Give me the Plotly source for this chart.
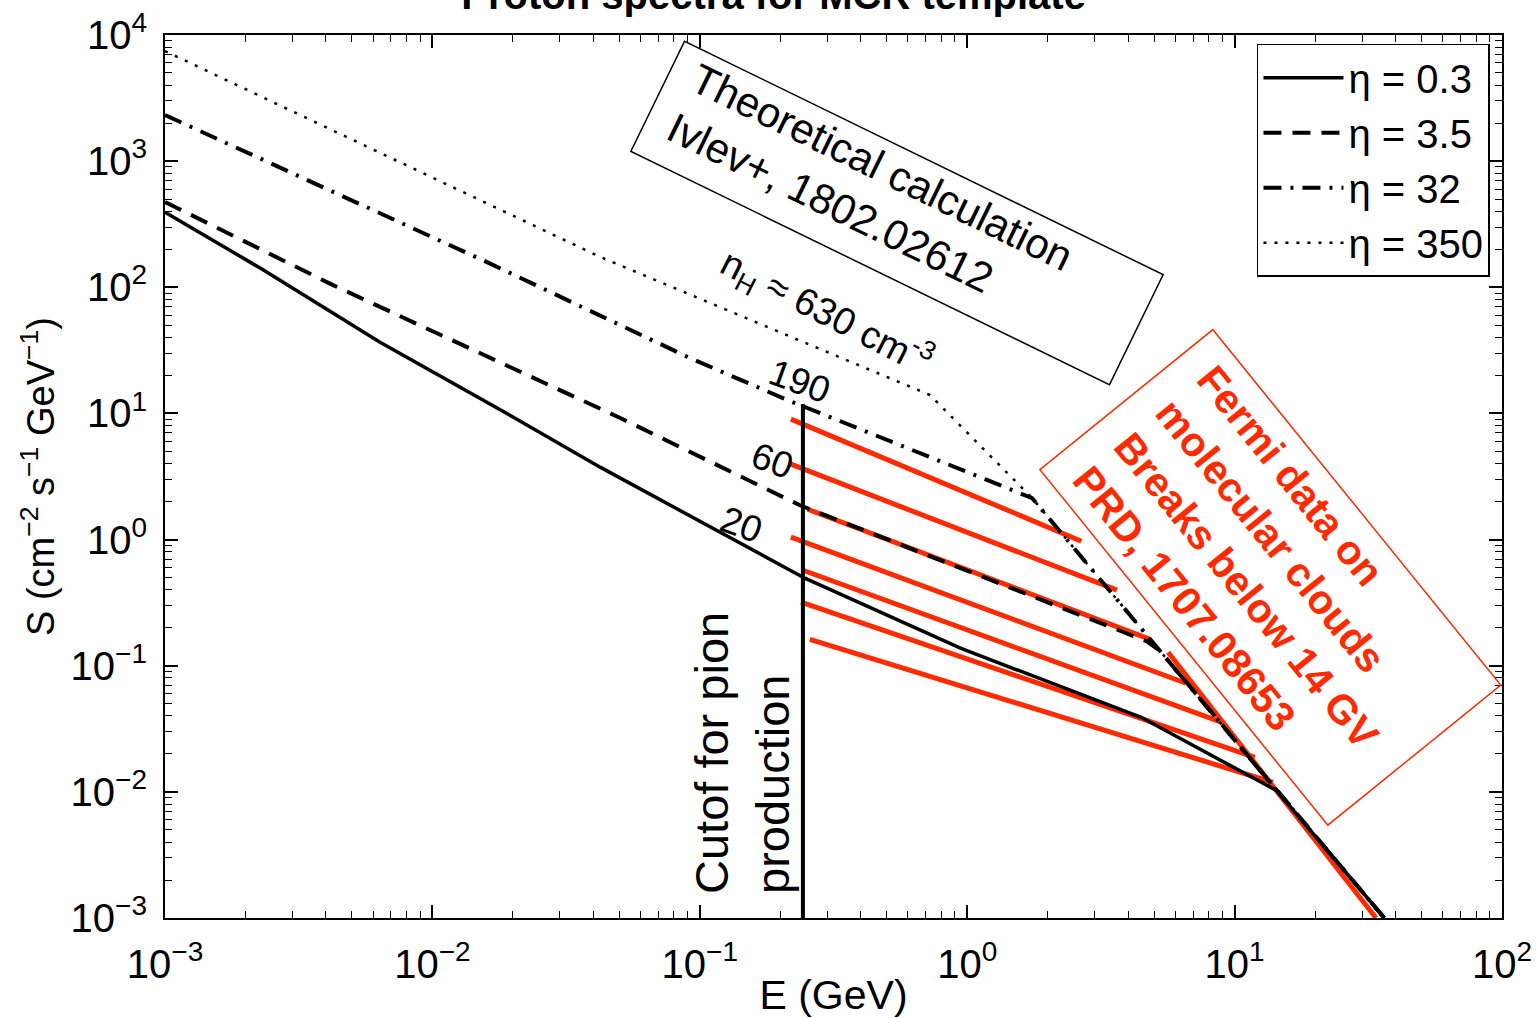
import plotly.graph_objects as go

# ---------------- data ----------------
E_eta03 = [0.001, 0.00227, 0.00637, 0.0207, 0.0424, 0.247, 0.948, 4.47, 14.4, 36.3]
S_eta03 = [394, 142, 36.7, 9.0, 3.75, 0.494, 0.137, 0.039, 0.0102, 0.001]

E_eta35 = [0.001, 0.00425, 0.0504, 0.0977, 0.237, 0.933, 4.70, 5.26, 14.4, 36.3]
S_eta35 = [474, 104, 9.2, 4.67, 1.87, 0.60, 0.156, 0.131, 0.0102, 0.001]

E_eta32 = [0.001, 0.0169, 0.0918, 0.212, 1.19, 1.75, 14.4, 36.3]
S_eta32 = [2320, 150, 27.5, 12.8, 2.96, 2.13, 0.0102, 0.001]

E_eta350 = [0.001, 0.02, 0.0424, 0.726, 1.75, 14.4, 36.3]
S_eta350 = [7460, 374, 174, 14.0, 2.13, 0.0102, 0.001]

# Fermi broken power-law segments (red)
red_E_start = [0.219, 0.219, 0.253, 0.219, 0.243, 0.239, 0.258]
red_S_start = [9.02, 3.96, 1.74, 1.045, 0.571, 0.319, 0.162]
red_E_end = [2.67, 3.63, 4.83, 6.58, 8.97, 11.9, 13.9]
red_S_end = [0.971, 0.397, 0.162, 0.0726, 0.0356, 0.0188, 0.0119]
red_tail_E = [5.64, 33.8]
red_tail_S = [0.128, 0.001]

# pion production cutoff
cut_E = [0.243, 0.243]
cut_S = [11.9, 0.001]

labels = ["η = 0.3", "η = 3.5", "η = 32", "η = 350"]

x_tickvals = [1e-3, 1e-2, 1e-1, 1, 10, 100]
x_ticktext = ["10<sup>−3</sup>", "10<sup>−2</sup>", "10<sup>−1</sup>", "10<sup>0</sup>",
              "10<sup>1</sup>", "10<sup>2</sup>"]
y_tickvals = [1e-3, 1e-2, 1e-1, 1, 10, 100, 1e3, 1e4]
y_ticktext = ["10<sup>−3</sup>", "10<sup>−2</sup>", "10<sup>−1</sup>", "10<sup>0</sup>",
              "10<sup>1</sup>", "10<sup>2</sup>", "10<sup>3</sup>", "10<sup>4</sup>"]

FONT = "Liberation Sans, Arial, Helvetica, sans-serif"
RED = "#ff2a00"

fig = go.Figure()

# red Fermi lines
rx, ry = [], []
for e0, s0, e1, s1 in zip(red_E_start, red_S_start, red_E_end, red_S_end):
    rx += [e0, e1, None]
    ry += [s0, s1, None]
rx += red_tail_E
ry += red_tail_S
fig.add_trace(go.Scatter(x=rx, y=ry, mode="lines", line=dict(color=RED, width=5),
                         showlegend=False, hoverinfo="skip"))

# model curves
fig.add_trace(go.Scatter(x=E_eta03, y=S_eta03, mode="lines", name=labels[0],
                         line=dict(color="black", width=3.5)))
fig.add_trace(go.Scatter(x=E_eta35, y=S_eta35, mode="lines", name=labels[1],
                         line=dict(color="black", width=4, dash="18px,11px")))
fig.add_trace(go.Scatter(x=E_eta32, y=S_eta32, mode="lines", name=labels[2],
                         line=dict(color="black", width=4, dash="18px,9px,3px,9px")))
fig.add_trace(go.Scatter(x=E_eta350, y=S_eta350, mode="lines", name=labels[3],
                         line=dict(color="black", width=2.5, dash="3px,8px")))

# cutoff line
fig.add_trace(go.Scatter(x=cut_E, y=cut_S, mode="lines", line=dict(color="black", width=4),
                         showlegend=False, hoverinfo="skip"))


def minor_vals(lo, hi):
    out = []
    for p in range(lo, hi):
        for m in range(2, 10):
            out.append(m * 10.0 ** p)
    return out


def axis_cfg(tv, tt, mv):
    return dict(
        type="log", showgrid=False, zeroline=False, showline=True, linecolor="black",
        linewidth=2, mirror="allticks", ticks="inside", ticklen=13, tickwidth=1.5,
        tickcolor="black", tickmode="array", tickvals=tv, ticktext=tt, automargin=False,
        tickfont=dict(family=FONT, size=40, color="black"),
        minor=dict(ticks="inside", ticklen=7, tickwidth=1.2, tickcolor="black",
                   tickmode="array", tickvals=mv, showgrid=False),
    )


fig.update_layout(
    width=1538, height=1018,
    margin=dict(l=165, r=36, t=35, b=100, autoexpand=False),
    paper_bgcolor="white", plot_bgcolor="white",
    font=dict(family=FONT, color="black"),
    title=dict(text="<b>Proton spectra for MCR template</b>", x=0.503, xanchor="center",
               y=0.991, yanchor="bottom", yref="container", automargin=False,
               font=dict(family=FONT, size=40, color="black")),
    xaxis=dict(range=[-3, 2], title=dict(text="E (GeV)", standoff=4,
               font=dict(family=FONT, size=41)), ticklabelstandoff=10,
               **axis_cfg(x_tickvals, x_ticktext, minor_vals(-3, 2))),
    yaxis=dict(range=[-3, 4], title=dict(text="S (cm<sup>−2</sup> s<sup>−1</sup> GeV<sup>−1</sup>)",
               standoff=4, font=dict(family=FONT, size=38)), ticklabelstandoff=8,
               **axis_cfg(y_tickvals, y_ticktext, minor_vals(-3, 4))),
    legend=dict(x=0.991, xanchor="right", y=0.99, yanchor="top", bgcolor="white",
                bordercolor="black", borderwidth=1.5, itemwidth=80,
                font=dict(family=FONT, size=40, color="black"),
                tracegroupgap=0),
    showlegend=True,
)


# --- annotations (paper coordinates of the plot area) ---
def px(X):
    return (X - 165) / 1337.0


def py(Y):
    return (918 - Y) / 883.0


def note(X, Y, **kw):
    fig.add_annotation(xref="paper", yref="paper", x=px(X), y=py(Y), showarrow=False,
                       xanchor="center", yanchor="middle", **kw)


# theoretical box
note(897, 213, text=" ", textangle=26, width=521, height=111, bordercolor="black",
     borderwidth=1.5, borderpad=5, bgcolor="rgba(255,255,255,0)")
note(870, 192, text="Theoretical calculation<br>Ivlev+, 1802.02612", textangle=26,
     align="left", font=dict(family=FONT, size=42, color="black"))

# n_H label
note(826, 312, text="n<sub>H</sub> ≈ 630 cm<sup>-3</sup>", textangle=27,
     font=dict(family=FONT, size=38, color="black"))

for t, X, Y in [("190", 800, 381), ("60", 772, 460), ("20", 741, 524)]:
    note(X, Y, text=t, textangle=20, font=dict(family=FONT, size=37, color="black"))

# cutoff text
note(742, 753, text="Cutof for pion<br>production", textangle=-90, align="left",
     font=dict(family=FONT, size=47, color="black"))

# Fermi box
note(1270, 577, text=" ", textangle=51, width=446, height=211, bordercolor=RED,
     borderwidth=1.5, borderpad=5, bgcolor="rgba(255,255,255,0)")
note(1267, 574, text="<b>Fermi data on<br>molecular clouds<br>Breaks below 14 GV<br>PRD, 1707.08653</b>",
     textangle=51, align="left", font=dict(family=FONT, size=41, color=RED))

fig.write_html("out.html", config={"displayModeBar": False},
               post_script="document.body.style.margin='0';document.body.style.overflow='hidden';")
